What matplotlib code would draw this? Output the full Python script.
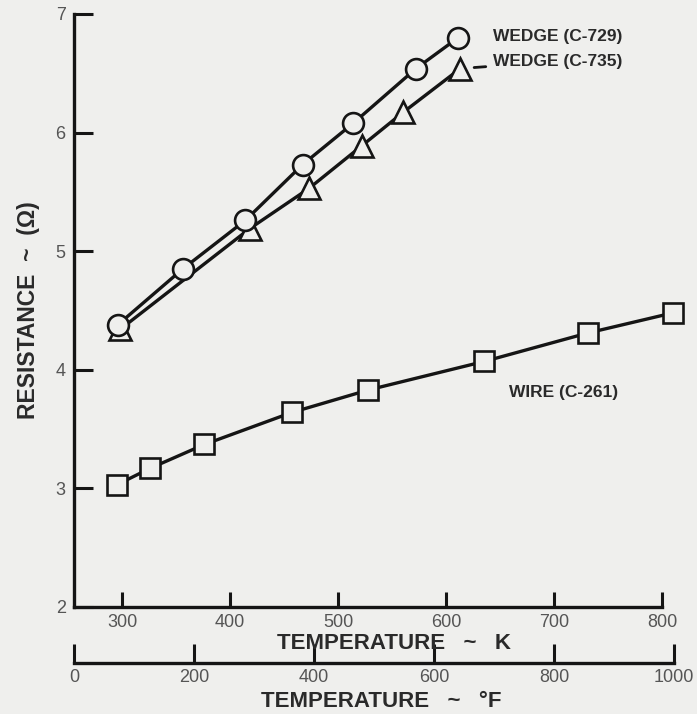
import matplotlib.pyplot as plt

# ---- Data ----
k_729 = [296, 356, 414, 467, 514, 572, 611]
r_729 = [4.38, 4.85, 5.26, 5.73, 6.08, 6.54, 6.80]

k_735 = [298, 418, 473, 522, 560, 613]
r_735 = [4.34, 5.19, 5.53, 5.89, 6.17, 6.54]

k_261 = [295, 326, 376, 457, 528, 635, 731, 810]
r_261 = [3.03, 3.17, 3.37, 3.64, 3.83, 4.07, 4.31, 4.48]

k_ticks = [300, 400, 500, 600, 700, 800]
f_ticks = [0, 200, 400, 600, 800, 1000]
r_ticks = [2, 3, 4, 5, 6, 7]

bg = "#efefed"
ink = "#151515"
txt = "#2a2a2a"
grey = "#555555"

plt.rcParams['font.family'] = ['Liberation Sans', 'DejaVu Sans']


def k2f(k):
    return (k - 273.15) * 9.0 / 5.0 + 32.0


def f2k(f):
    return (f - 32.0) * 5.0 / 9.0 + 273.15


fig = plt.figure(figsize=(6.97, 7.14), dpi=100, facecolor=bg)
ax = fig.add_axes([0.1062, 0.1499, 0.8827, 0.8305], facecolor=bg)

line_kw = dict(color=ink, lw=2.4, mec=ink, mfc=bg, mew=1.9, zorder=3)
ax.plot(k_261, r_261, marker='s', ms=15, **line_kw)
ax.plot(k_735, r_735, marker='^', ms=16, **line_kw)
ax.plot(k_729, r_729, marker='o', ms=15, **line_kw)

ax.set_xlim(f2k(0), 825)
ax.set_ylim(2, 7)

for s in ['top', 'right']:
    ax.spines[s].set_visible(False)
for s in ['left', 'bottom']:
    ax.spines[s].set_linewidth(2.4)
    ax.spines[s].set_color(ink)
ax.spines['bottom'].set_bounds(f2k(0), 800)
ax.spines['left'].set_bounds(2, 7)

ax.set_xticks(k_ticks)
ax.set_yticks(r_ticks)
ax.tick_params(axis='x', direction='in', length=11, width=2.2, color=ink,
               labelsize=13, labelcolor=grey, pad=5)
ax.tick_params(axis='y', direction='in', length=14, width=2.2, color=ink,
               labelsize=13, labelcolor=grey, pad=6)

ax.set_xlabel("TEMPERATURE   ~   K", fontsize=16, fontweight='bold', color=txt)
ax.xaxis.set_label_coords(0.52, -0.061)
ax.xaxis.label.set_va('center')
ax.set_ylabel("RESISTANCE  ~  (Ω)", fontsize=16.5, fontweight='bold', color=txt,
              labelpad=11)

# second temperature scale in Fahrenheit
sec = ax.secondary_xaxis(-0.0944, functions=(k2f, f2k))
sec.set_xticks(f_ticks)
sec.spines['bottom'].set_linewidth(2.4)
sec.spines['bottom'].set_color(ink)
sec.spines['bottom'].set_bounds(0, 1000)
sec.tick_params(axis='x', direction='in', length=14, width=2.2, color=ink,
                labelsize=13, labelcolor=grey, pad=4)
sec.set_xlabel("TEMPERATURE   ~   °F", fontsize=16, fontweight='bold',
               color=txt, labelpad=4)

# curve labels
lab_kw = dict(fontsize=12.5, fontweight='bold', color=txt, va='center', ha='left')
ax.text(643, 6.81, "WEDGE (C-729)", **lab_kw)
ax.annotate("WEDGE (C-735)", xy=(k_735[-1], r_735[-1]), xytext=(643, 6.60),
            arrowprops=dict(arrowstyle='-', color=ink, lw=2, shrinkA=3,
                            shrinkB=10), **lab_kw)
ax.text(658, 3.81, "WIRE (C-261)", **lab_kw)

fig.savefig("out.png", dpi=100, facecolor=bg)
